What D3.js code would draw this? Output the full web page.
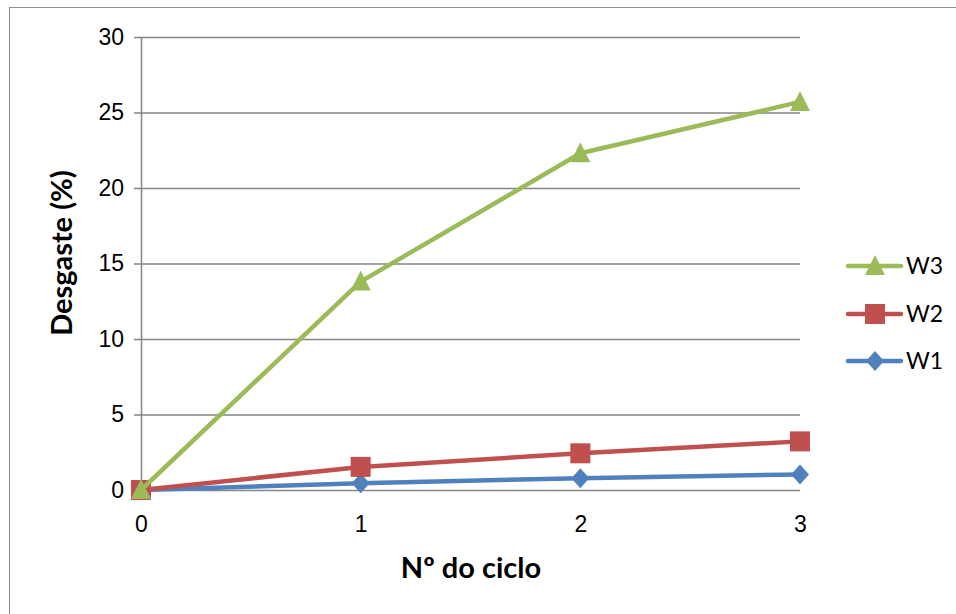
<!DOCTYPE html>
<html>
<head>
<meta charset="utf-8">
<script src="https://cdn.jsdelivr.net/npm/d3@7"></script>
<style>
  html, body { margin: 0; padding: 0; background: #fff; }
  svg { display: block; font-family: Lato, "Open Sans", sans-serif; }
</style>
</head>
<body>
<svg id="chart" width="956" height="614"></svg>
<script>
// Wear (%) per cycle for three samples
const cycles = [0, 1, 2, 3];
const w1 = [0, 0.45, 0.78, 1.03];
const w2 = [0, 1.53, 2.43, 3.22];
const w3 = [0, 13.8, 22.3, 25.7];
const yTicks = [0, 5, 10, 15, 20, 25, 30];
const seriesNames = ["W1", "W2", "W3"];
const seriesColors = ["#4F81BD", "#C0504D", "#9BBB59"];
const seriesShapes = ["diamond", "square", "triangle"];

const series = seriesNames.map((name, i) => ({
  name,
  color: seriesColors[i],
  shape: seriesShapes[i],
  values: [w1, w2, w3][i].map((v, j) => ({ x: cycles[j], y: v }))
}));

const svg = d3.select("#chart");

// outer frame of the chart area
svg.append("rect")
  .attr("x", 9.5).attr("y", 7.5)
  .attr("width", 960).attr("height", 620)
  .attr("fill", "none").attr("stroke", "#8c8c8c").attr("stroke-width", 1);

const x = d3.scaleLinear().domain([0, 3]).range([141, 800]);
const y = d3.scaleLinear().domain([0, 30]).range([490, 37]);

// horizontal gridlines with left tick marks
const yAxis = d3.axisLeft(y).tickValues(yTicks).tickSize(7).tickPadding(10)
  .tickFormat(d3.format("d"));
const gy = svg.append("g").attr("transform", `translate(${x(0)},0)`).call(yAxis);
gy.select(".domain").attr("stroke", "#868686").attr("stroke-width", 1.5)
  .attr("d", `M0.5,${y(30)}V${y(0)}`);
gy.selectAll(".tick line").attr("stroke", "#868686").attr("stroke-width", 1.5)
  .attr("x1", -7).attr("x2", x(3) - x(0));
gy.selectAll(".tick text").attr("font-size", 23).attr("fill", "#000");

const xAxis = d3.axisBottom(x).tickValues(cycles).tickSize(0).tickPadding(26)
  .tickFormat(d3.format("d"));
const gx = svg.append("g").attr("transform", `translate(0,${y(0)})`).call(xAxis);
gx.select(".domain").remove();
gx.selectAll(".tick text").attr("font-size", 23).attr("fill", "#000");

// axis titles
svg.append("text")
  .attr("x", 471).attr("y", 578)
  .attr("text-anchor", "middle")
  .attr("font-size", 29).attr("font-weight", "bold")
  .text("Nº do ciclo");
svg.append("text")
  .attr("transform", "translate(72,253) rotate(-90)")
  .attr("text-anchor", "middle")
  .attr("font-size", 29).attr("font-weight", "bold")
  .text("Desgaste (%)");

function markerPath(shape) {
  if (shape === "diamond") return "M0,-10L9,0L0,10L-9,0Z";
  if (shape === "square") return "M-10,-10H10V10H-10Z";
  return "M0,-11L10,9H-10Z";
}

const line = d3.line().x(d => x(d.x)).y(d => y(d.y));

series.forEach(s => {
  const g = svg.append("g");
  g.append("path").datum(s.values)
    .attr("d", line)
    .attr("fill", "none").attr("stroke", s.color)
    .attr("stroke-width", 4.5).attr("stroke-linejoin", "round");
  g.selectAll("path.mk").data(s.values).join("path")
    .attr("class", "mk")
    .attr("transform", d => `translate(${x(d.x)},${y(d.y)})`)
    .attr("d", markerPath(s.shape))
    .attr("fill", s.color);
});

// legend, last series on top
const legendY = { W3: 266, W2: 314, W1: 361 };
series.slice().reverse().forEach(s => {
  const ly = legendY[s.name];
  const g = svg.append("g").attr("transform", `translate(0,${ly})`);
  g.append("line").attr("x1", 848).attr("x2", 901).attr("y1", 0).attr("y2", 0)
    .attr("stroke", s.color).attr("stroke-width", 4.5).attr("stroke-linecap", "round");
  g.append("path").attr("transform", "translate(875,0)")
    .attr("d", markerPath(s.shape)).attr("fill", s.color);
  g.append("text").attr("x", 906).attr("y", 8)
    .attr("font-size", 23).attr("fill", "#000").text(s.name);
});
</script>
</body>
</html>
